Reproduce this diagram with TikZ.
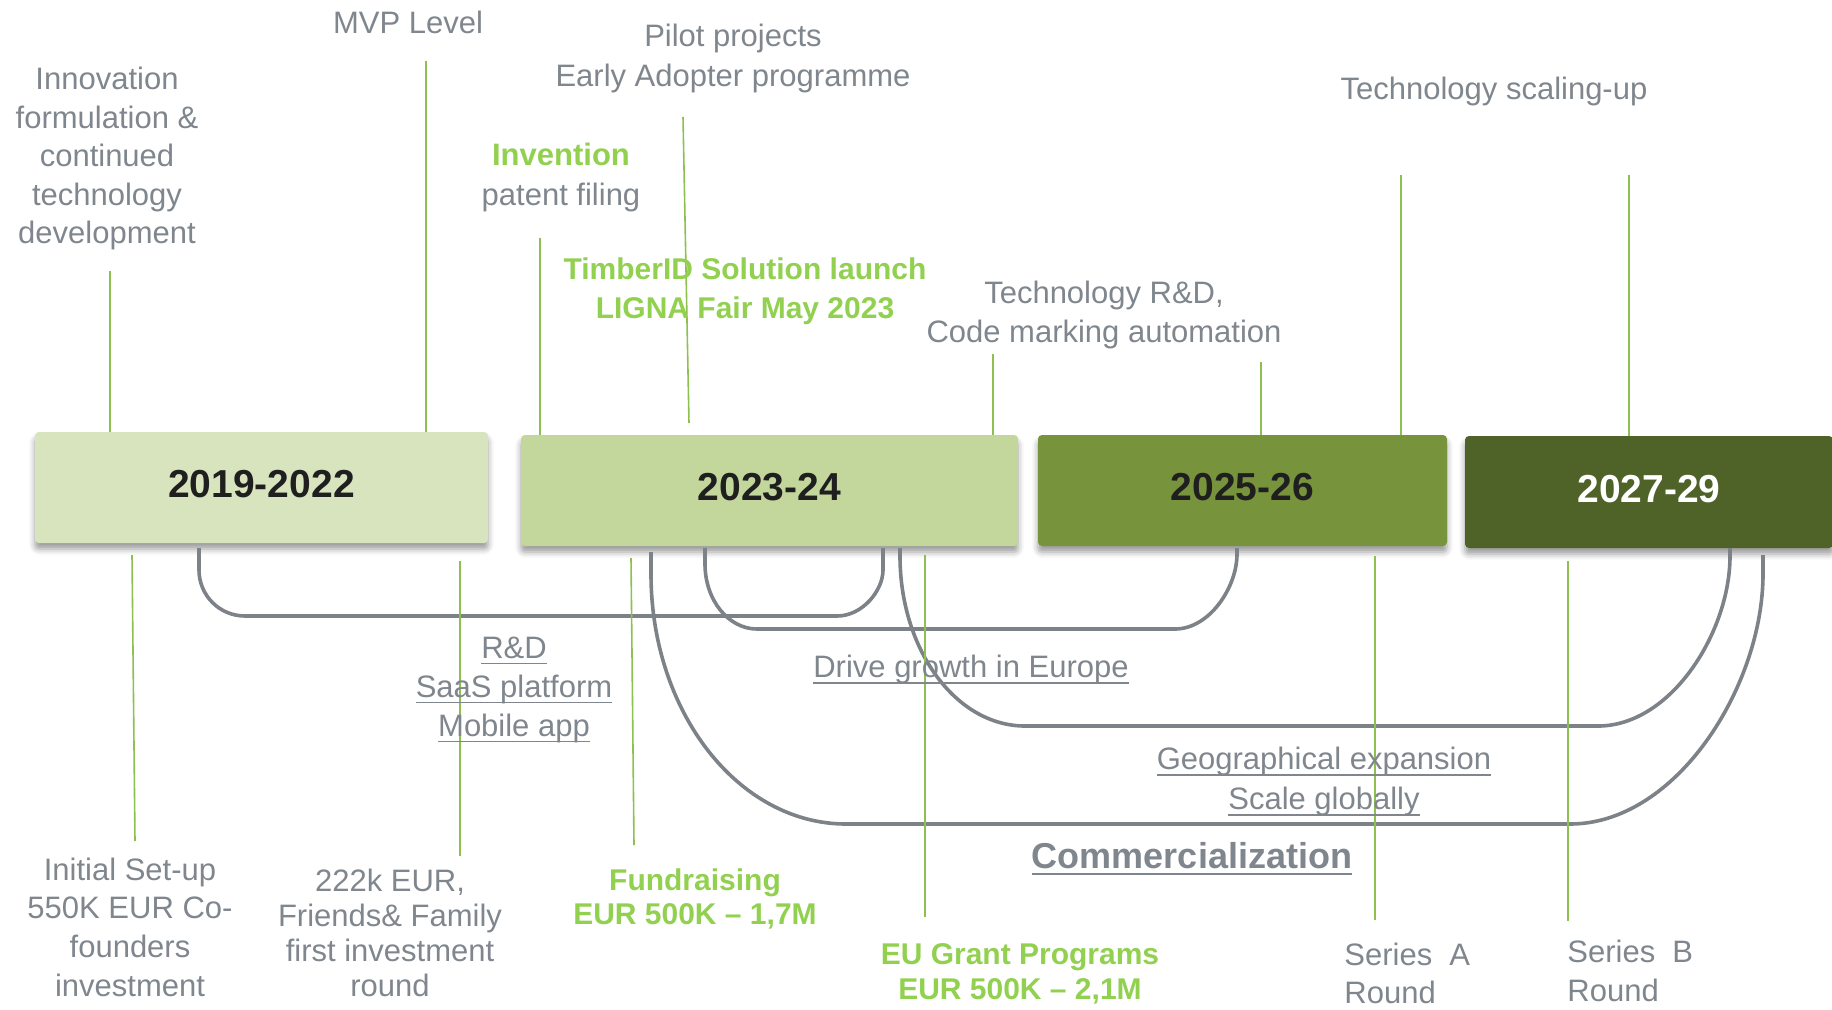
\documentclass[tikz,border=0pt]{standalone}
\usepackage{fontspec}
\setmainfont{Liberation Sans}
\usetikzlibrary{shadows.blur}
\definecolor{txtgray}{HTML}{7F868D}
\definecolor{hlgreen}{HTML}{92D050}
\definecolor{tickgreen}{HTML}{8DC04F}
\definecolor{bracegray}{HTML}{7C8287}
\definecolor{boxA}{HTML}{D7E4BD}
\definecolor{boxB}{HTML}{C3D69B}
\definecolor{boxC}{HTML}{77933C}
\definecolor{boxD}{HTML}{4F6228}
\newcommand{\myul}[1]{\leavevmode\setbox0=\hbox{#1}\rlap{\rule[-3pt]{\wd0}{0.8pt}}\box0}
\begin{document}
\begin{tikzpicture}[x=0.5pt,y=-0.5pt,
 yearbox/.style={rounded corners=2pt, minimum height=55.5pt, inner sep=0pt, text=black!88,
   text depth=3.5pt,
   font=\fontsize{19.5}{23}\selectfont\bfseries,
   blur shadow={shadow xshift=0pt, shadow yshift=-3pt, shadow blur radius=3pt, shadow opacity=40}},
 graytxt/.style={text=txtgray, align=center, inner sep=0pt, font=\fontsize{15.5}{19.5}\selectfont},
 greentxt/.style={text=hlgreen, align=center, inner sep=0pt, font=\fontsize{15}{19.5}\selectfont\bfseries},
 lower/.style={yshift=-1.8pt},
 tick/.style={draw=tickgreen, line width=0.8pt},
 brace/.style={draw=bracegray, line width=1.8pt}]
\useasboundingbox (0,0) rectangle (1832,1009);

% year boxes
\node[yearbox, fill=boxA, minimum width=226.5pt] (b1) at (261.5,487.5) {2019-2022};
\node[yearbox, fill=boxB, minimum width=248.5pt] (b2) at (769.5,490.5) {2023-24};
\node[yearbox, fill=boxC, minimum width=204.5pt] (b3) at (1242.5,490.5) {2025-26};
\node[yearbox, fill=boxD, text=white, minimum width=184pt, minimum height=56pt] (b4) at (1649,492) {2027-29};

% brackets
\coordinate (r1a) at (199,548);
\coordinate (r1b) at (883,548);
\draw[brace] (r1a) -- (199,570) .. controls (199,595.4) and (219.6,616) .. (245,616)
  -- (837,616) .. controls (862.4,616) and (883,590.6) .. (883,570) -- (r1b);
\coordinate (r2a) at (705,548);
\coordinate (r2b) at (1237,548);
\draw[brace] (r2a) -- (705,564) .. controls (705,599.9) and (728.3,629) .. (757,629)
  -- (1175,629) .. controls (1209.2,629) and (1237,587.6) .. (1237,554) -- (r2b);
\coordinate (r3a) at (900,548);
\coordinate (r3b) at (1730,548);
\draw[brace] (r3a) -- (900,556) .. controls (900,649.8) and (956,726) .. (1025,726)
  -- (1598,726) .. controls (1670.9,726) and (1730,632.2) .. (1730,556) -- (r3b);
\coordinate (r4a) at (651,552);
\coordinate (r4b) at (1763,555);
\draw[brace] (r4a) -- (651,574) .. controls (651,712) and (738.4,824) .. (846,824)
  -- (1570,824) .. controls (1676.5,824) and (1763,686) .. (1763,574) -- (r4b);

% top ticks
\coordinate (t1) at (110,271);
\coordinate (t2) at (426,61);
\coordinate (t3) at (540,238);
\coordinate (t4) at (683,117);
\coordinate (t4e) at (689,423);
\coordinate (t5) at (993,354);
\coordinate (t6) at (1261,362);
\coordinate (t7) at (1401,175);
\coordinate (t8) at (1629,175);
\draw[tick] (t1) -- (t1 |- b1.north);
\draw[tick] (t2) -- (t2 |- b1.north);
\draw[tick] (t3) -- (t3 |- b2.north);
\draw[tick] (t4) -- (t4e);
\draw[tick] (t5) -- (t5 |- b2.north);
\draw[tick] (t6) -- (t6 |- b3.north);
\draw[tick] (t7) -- (t7 |- b3.north);
\draw[tick] (t8) -- (t8 |- b4.north);

% bottom ticks
\coordinate (u1) at (132,555); \coordinate (u1e) at (135,841);
\coordinate (u2) at (460,561); \coordinate (u2e) at (460,856);
\coordinate (u3) at (631,558); \coordinate (u3e) at (634,845);
\coordinate (u4) at (925,555); \coordinate (u4e) at (925,917);
\coordinate (u5) at (1375,556); \coordinate (u5e) at (1375,920);
\coordinate (u6) at (1568,561); \coordinate (u6e) at (1568,921);
\draw[tick] (u1) -- (u1e);
\draw[tick] (u2) -- (u2e);
\draw[tick] (u3) -- (u3e);
\draw[tick] (u4) -- (u4e);
\draw[tick] (u5) -- (u5e);
\draw[tick] (u6) -- (u6e);

% top texts
\node[graytxt, lower, font=\fontsize{15.5}{19.25}\selectfont] (innov) at (107,155) {Innovation\\formulation \&\\continued\\technology\\development};
\node[graytxt] (mvp) at (408,22) {MVP Level};
\node[graytxt, lower, font=\fontsize{15.5}{20}\selectfont] (pilot) at (733,55) {Pilot projects\\Early Adopter programme};
\node[graytxt, lower, font=\fontsize{15.5}{20}\selectfont] (inv) at (561,174) {\textcolor{hlgreen}{\bfseries Invention}\\patent filing};
\node[greentxt, lower] (timber) at (745,288) {TimberID Solution launch\\LIGNA Fair May 2023};
\node[graytxt, lower] (techrd) at (1104,311) {Technology R\&D,\\Code marking automation};
\node[graytxt, lower] (scale) at (1494,88) {Technology scaling-up};

% bracket labels
\node[graytxt, lower] (rd) at (514,686) {\myul{R\&D}\\\myul{SaaS platform}\\\myul{Mobile app}};
\node[graytxt, lower] (drive) at (971,666) {\myul{Drive growth in Europe}};
\node[graytxt, lower, font=\fontsize{15.5}{20}\selectfont] (geo) at (1324,778) {\myul{Geographical expansion}\\\myul{Scale globally}};
\node[graytxt, lower, font=\fontsize{18}{22}\selectfont\bfseries] (comm) at (1192,855) {\myul{Commercialization}};

% bottom texts
\node[graytxt, font=\fontsize{15.5}{19.3}\selectfont] (init) at (130,927) {Initial Set-up\\550K EUR Co-\\founders\\investment};
\node[graytxt, font=\fontsize{15.5}{17.5}\selectfont] (ff) at (390,933) {222k EUR,\\Friends\& Family\\first investment\\round};
\node[greentxt, font=\fontsize{15}{17}\selectfont\bfseries] (fund) at (695,899) {Fundraising\\EUR 500K – 1,7M};
\node[greentxt, lower, font=\fontsize{15}{17.5}\selectfont\bfseries] (eu) at (1020,970) {EU Grant Programs\\EUR 500K – 2,1M};
\node[graytxt, align=left, anchor=west, font=\fontsize{15.5}{19}\selectfont] (serA) at (1344,973) {Series\ \ A\\Round};
\node[graytxt, align=left, anchor=west, font=\fontsize{15.5}{19.5}\selectfont] (serB) at (1567,971) {Series\ \ B\\Round};
\end{tikzpicture}
\end{document}
